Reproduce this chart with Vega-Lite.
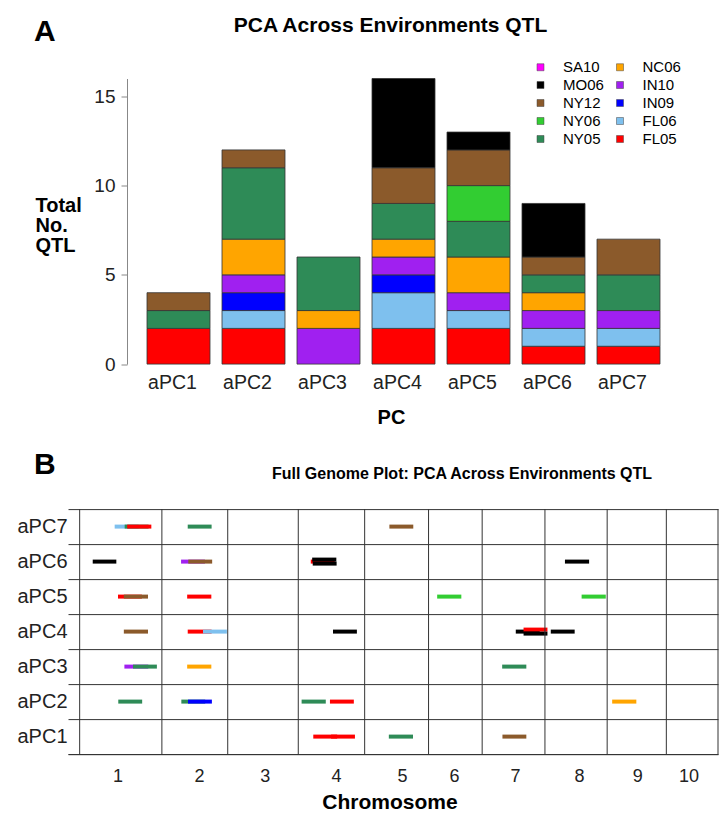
{
  "$schema": "https://vega.github.io/schema/vega-lite/v6.json",
  "background": "white",
  "padding": {"left": 16, "top": 14.5, "right": 0, "bottom": 0},
  "bounds": "flush",
  "spacing": 144.6,
  "title": {
    "text": "A",
    "anchor": "start",
    "baseline": "alphabetic",
    "fontSize": 30,
    "fontWeight": "bold",
    "color": "black",
    "offset": -56,
    "dx": 17
  },
  "config": {
    "font": "Liberation Sans",
    "view": {"stroke": null},
    "axis": {"labelFont": "Liberation Sans", "titleFont": "Liberation Sans"},
    "legend": {"labelFont": "Liberation Sans"},
    "title": {"font": "Liberation Sans"}
  },
  "resolve": {"scale": {"color": "independent"}, "legend": {"color": "independent"}},
  "datasets": {
    "qtl_counts": [
      {"pc": "aPC1", "env": "FL05", "n": 2},
      {"pc": "aPC1", "env": "NY05", "n": 1},
      {"pc": "aPC1", "env": "NY12", "n": 1},
      {"pc": "aPC2", "env": "FL05", "n": 2},
      {"pc": "aPC2", "env": "FL06", "n": 1},
      {"pc": "aPC2", "env": "IN09", "n": 1},
      {"pc": "aPC2", "env": "IN10", "n": 1},
      {"pc": "aPC2", "env": "NC06", "n": 2},
      {"pc": "aPC2", "env": "NY05", "n": 4},
      {"pc": "aPC2", "env": "NY12", "n": 1},
      {"pc": "aPC3", "env": "IN10", "n": 2},
      {"pc": "aPC3", "env": "NC06", "n": 1},
      {"pc": "aPC3", "env": "NY05", "n": 3},
      {"pc": "aPC4", "env": "FL05", "n": 2},
      {"pc": "aPC4", "env": "FL06", "n": 2},
      {"pc": "aPC4", "env": "IN09", "n": 1},
      {"pc": "aPC4", "env": "IN10", "n": 1},
      {"pc": "aPC4", "env": "NC06", "n": 1},
      {"pc": "aPC4", "env": "NY05", "n": 2},
      {"pc": "aPC4", "env": "NY12", "n": 2},
      {"pc": "aPC4", "env": "MO06", "n": 5},
      {"pc": "aPC5", "env": "FL05", "n": 2},
      {"pc": "aPC5", "env": "FL06", "n": 1},
      {"pc": "aPC5", "env": "IN10", "n": 1},
      {"pc": "aPC5", "env": "NC06", "n": 2},
      {"pc": "aPC5", "env": "NY05", "n": 2},
      {"pc": "aPC5", "env": "NY06", "n": 2},
      {"pc": "aPC5", "env": "NY12", "n": 2},
      {"pc": "aPC5", "env": "MO06", "n": 1},
      {"pc": "aPC6", "env": "FL05", "n": 1},
      {"pc": "aPC6", "env": "FL06", "n": 1},
      {"pc": "aPC6", "env": "IN10", "n": 1},
      {"pc": "aPC6", "env": "NC06", "n": 1},
      {"pc": "aPC6", "env": "NY05", "n": 1},
      {"pc": "aPC6", "env": "NY12", "n": 1},
      {"pc": "aPC6", "env": "MO06", "n": 3},
      {"pc": "aPC7", "env": "FL05", "n": 1},
      {"pc": "aPC7", "env": "FL06", "n": 1},
      {"pc": "aPC7", "env": "IN10", "n": 1},
      {"pc": "aPC7", "env": "NY05", "n": 2},
      {"pc": "aPC7", "env": "NY12", "n": 2}
    ],
    "qtl_intervals": [
      {"pc": "aPC7", "env": "FL06", "start": 126, "end": 212, "lane": 0},
      {"pc": "aPC7", "env": "NY05", "start": 162, "end": 248, "lane": 0},
      {"pc": "aPC7", "env": "FL05", "start": 171, "end": 258, "lane": 0},
      {"pc": "aPC7", "env": "NY05", "start": 389, "end": 475, "lane": 0},
      {"pc": "aPC7", "env": "NY12", "start": 1115, "end": 1201, "lane": 0},
      {"pc": "aPC6", "env": "MO06", "start": 47, "end": 132, "lane": 0},
      {"pc": "aPC6", "env": "IN10", "start": 365, "end": 451, "lane": 0},
      {"pc": "aPC6", "env": "NY12", "start": 391, "end": 477, "lane": 0},
      {"pc": "aPC6", "env": "FL05", "start": 832, "end": 918, "lane": 0},
      {"pc": "aPC6", "env": "MO06", "start": 837, "end": 924, "lane": -1},
      {"pc": "aPC6", "env": "MO06", "start": 839, "end": 925, "lane": 1},
      {"pc": "aPC6", "env": "MO06", "start": 1747, "end": 1834, "lane": 0},
      {"pc": "aPC5", "env": "FL05", "start": 138, "end": 224, "lane": 0},
      {"pc": "aPC5", "env": "NY12", "start": 159, "end": 246, "lane": 0},
      {"pc": "aPC5", "env": "FL05", "start": 387, "end": 474, "lane": 0},
      {"pc": "aPC5", "env": "NY06", "start": 1287, "end": 1374, "lane": 0},
      {"pc": "aPC5", "env": "NY06", "start": 1807, "end": 1894, "lane": 0},
      {"pc": "aPC4", "env": "NY12", "start": 159, "end": 246, "lane": 0},
      {"pc": "aPC4", "env": "FL05", "start": 389, "end": 475, "lane": 0},
      {"pc": "aPC4", "env": "FL06", "start": 444, "end": 530, "lane": 0},
      {"pc": "aPC4", "env": "MO06", "start": 912, "end": 998, "lane": 0},
      {"pc": "aPC4", "env": "MO06", "start": 1570, "end": 1656, "lane": 0},
      {"pc": "aPC4", "env": "FL05", "start": 1598, "end": 1684, "lane": -1},
      {"pc": "aPC4", "env": "MO06", "start": 1598, "end": 1684, "lane": 1},
      {"pc": "aPC4", "env": "MO06", "start": 1696, "end": 1782, "lane": 0},
      {"pc": "aPC3", "env": "IN10", "start": 161, "end": 247, "lane": 0},
      {"pc": "aPC3", "env": "NY05", "start": 192, "end": 278, "lane": 0},
      {"pc": "aPC3", "env": "NC06", "start": 387, "end": 474, "lane": 0},
      {"pc": "aPC3", "env": "NY05", "start": 1521, "end": 1608, "lane": 0},
      {"pc": "aPC2", "env": "NY05", "start": 139, "end": 225, "lane": 0},
      {"pc": "aPC2", "env": "NY05", "start": 366, "end": 452, "lane": 0},
      {"pc": "aPC2", "env": "IN09", "start": 390, "end": 476, "lane": 0},
      {"pc": "aPC2", "env": "NY05", "start": 799, "end": 886, "lane": 0},
      {"pc": "aPC2", "env": "FL05", "start": 901, "end": 987, "lane": 0},
      {"pc": "aPC2", "env": "NC06", "start": 1917, "end": 2004, "lane": 0},
      {"pc": "aPC1", "env": "FL05", "start": 841, "end": 927, "lane": 0},
      {"pc": "aPC1", "env": "FL05", "start": 905, "end": 991, "lane": 0},
      {"pc": "aPC1", "env": "NY05", "start": 1113, "end": 1200, "lane": 0},
      {"pc": "aPC1", "env": "NY12", "start": 1522, "end": 1608, "lane": 0}
    ],
    "chromosomes": [
      {"chr": 1, "start": 0, "end": 296},
      {"chr": 2, "start": 296, "end": 533},
      {"chr": 3, "start": 533, "end": 787},
      {"chr": 4, "start": 787, "end": 1026},
      {"chr": 5, "start": 1026, "end": 1256},
      {"chr": 6, "start": 1256, "end": 1449},
      {"chr": 7, "start": 1449, "end": 1675},
      {"chr": 8, "start": 1675, "end": 1899},
      {"chr": 9, "start": 1899, "end": 2112},
      {"chr": 10, "start": 2112, "end": 2298}
    ]
  },
  "vconcat": [
    {
      "width": 650,
      "height": 285.6,
      "data": {"name": "qtl_counts"},
      "title": {
        "text": "PCA Across Environments QTL",
        "frame": "group",
        "anchor": "middle",
        "baseline": "alphabetic",
        "dx": -2.5,
        "offset": 6.5,
        "fontSize": 21,
        "fontWeight": "bold",
        "color": "black"
      },
      "transform": [
        {"calculate": "indexof(['FL05','FL06','IN09','IN10','NC06','NY05','NY06','NY12','MO06','SA10'], datum.env)", "as": "stack_rank"}
      ],
      "mark": {"type": "bar", "stroke": "#333333", "strokeWidth": 0.8},
      "encoding": {
        "x": {
          "field": "pc",
          "type": "nominal",
          "sort": ["aPC1", "aPC2", "aPC3", "aPC4", "aPC5", "aPC6", "aPC7"],
          "scale": {"range": [79, 592], "paddingInner": 0.16, "paddingOuter": 0},
          "axis": {
            "domain": false,
            "ticks": false,
            "tickSize": 0,
            "labelAngle": 0,
            "labelPadding": 9.5,
            "labelOffset": -6,
            "labelFontSize": 19.5,
            "labelColor": "#222222",
            "title": "PC",
            "titleX": 323,
            "titlePadding": 15,
            "titleFontSize": 20,
            "titleFontWeight": "bold",
            "titleColor": "black"
          }
        },
        "y": {
          "field": "n",
          "type": "quantitative",
          "stack": "zero",
          "scale": {"domain": [0, 16], "nice": false},
          "axis": {
            "values": [0, 5, 10, 15],
            "offset": -59,
            "grid": false,
            "domainColor": "#888888",
            "tickColor": "#888888",
            "tickSize": 6,
            "labelPadding": 6,
            "labelFontSize": 19,
            "labelColor": "#222222",
            "title": ["Total", "No.", "QTL"],
            "titleAngle": 0,
            "titleAlign": "left",
            "titleBaseline": "top",
            "titleX": -92,
            "titleY": 116.5,
            "titleLineHeight": 20,
            "titleFontSize": 20,
            "titleFontWeight": "bold",
            "titleColor": "black"
          }
        },
        "color": {
          "field": "env",
          "type": "nominal",
          "scale": {
            "domain": ["SA10", "MO06", "NY12", "NY06", "NY05", "NC06", "IN10", "IN09", "FL06", "FL05"],
            "range": ["#FF00FF", "#000000", "#8B5A2B", "#32CD32", "#2E8B57", "#FFA500", "#A020F0", "#0000FF", "#7EC0EE", "#FF0000"]
          },
          "legend": {
            "orient": "none",
            "legendX": 465,
            "legendY": -19,
            "columns": 2,
            "title": null,
            "padding": 0,
            "symbolType": "square",
            "symbolSize": 49,
            "symbolStrokeColor": "#444444",
            "symbolStrokeWidth": 0.5,
            "labelFontSize": 15,
            "labelColor": "black",
            "labelOffset": 15,
            "rowPadding": 2,
            "columnPadding": 8.5
          }
        },
        "order": {"field": "stack_rank", "type": "quantitative"}
      }
    },
    {
      "width": 650,
      "height": 245,
      "title": {
        "text": "Full Genome Plot: PCA Across Environments QTL",
        "frame": "group",
        "anchor": "middle",
        "baseline": "alphabetic",
        "dx": 69,
        "offset": -45,
        "fontSize": 16,
        "fontWeight": "bold",
        "color": "black"
      },
      "layer": [
        {
          "data": {"name": "qtl_intervals"},
          "mark": {"type": "rule", "strokeWidth": 4, "strokeCap": "butt", "yOffset": {"expr": "datum.lane * 2"}},
          "encoding": {
            "x": {
              "field": "start",
              "type": "quantitative",
              "scale": {"domain": [-42, 2298], "nice": false, "zero": false},
              "axis": {
                "values": [136, 430, 666, 923, 1160, 1348, 1567, 1798, 2007, 2192],
                "labelExpr": "indexof([136, 430, 666, 923, 1160, 1348, 1567, 1798, 2007, 2192], datum.value) + 1",
                "grid": false,
                "domain": true,
                "domainColor": "#333333",
                "domainWidth": 1,
                "ticks": false,
                "tickSize": 0,
                "labelPadding": 13,
                "labelFontSize": 18,
                "labelColor": "#222222",
                "labelFlush": false,
                "labelOverlap": false,
                "title": "Chromosome",
                "titleX": 321.5,
                "titlePadding": 6,
                "titleFontSize": 21,
                "titleFontWeight": "bold",
                "titleColor": "black"
              }
            },
            "x2": {"field": "end"},
            "y": {
              "field": "pc",
              "type": "nominal",
              "sort": ["aPC7", "aPC6", "aPC5", "aPC4", "aPC3", "aPC2", "aPC1"],
              "scale": {"type": "band", "paddingInner": 0, "paddingOuter": 0},
              "axis": {
                "domain": false,
                "ticks": false,
                "tickSize": 0,
                "tickBand": "extent",
                "grid": true,
                "gridColor": "#333333",
                "gridWidth": 1,
                "gridOpacity": 1,
                "labelPadding": 1,
                "labelFontSize": 20,
                "labelColor": "#222222",
                "title": "B",
                "titleAngle": 0,
                "titleAlign": "left",
                "titleBaseline": "alphabetic",
                "titleX": -34.5,
                "titleY": -35.3,
                "titleFontSize": 30,
                "titleFontWeight": "bold",
                "titleColor": "black"
              }
            },
            "color": {
              "field": "env",
              "type": "nominal",
              "scale": {
                "domain": ["SA10", "MO06", "NY12", "NY06", "NY05", "NC06", "IN10", "IN09", "FL06", "FL05"],
                "range": ["#FF00FF", "#000000", "#8B5A2B", "#32CD32", "#2E8B57", "#FFA500", "#A020F0", "#0000FF", "#7EC0EE", "#FF0000"]
              },
              "legend": null
            }
          }
        },
        {
          "data": {"name": "chromosomes"},
          "mark": {"type": "rule", "color": "#333333", "strokeWidth": 1},
          "encoding": {"x": {"field": "start", "type": "quantitative"}}
        },
        {
          "data": {"name": "chromosomes"},
          "transform": [{"filter": "datum.chr == 10"}],
          "mark": {"type": "rule", "color": "#333333", "strokeWidth": 1},
          "encoding": {"x": {"field": "end", "type": "quantitative"}}
        }
      ]
    }
  ]
}
